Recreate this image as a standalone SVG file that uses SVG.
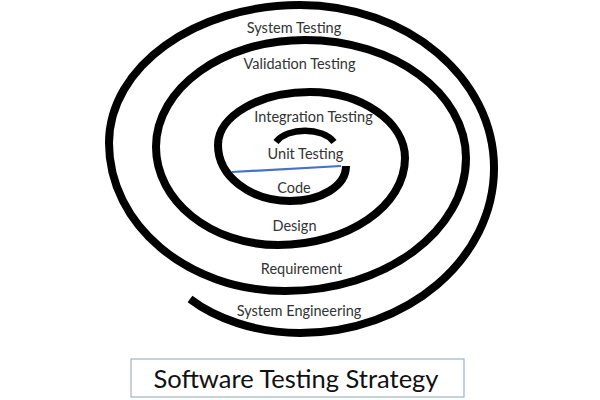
<svg xmlns="http://www.w3.org/2000/svg" width="600" height="400" viewBox="0 0 600 400">
  <style>
    .spiral { fill: none; stroke: #000; stroke-width: 8; stroke-linecap: butt; }
    .inner { fill: none; stroke: #000; stroke-width: 6.5; }
    .lbl { font-family: Lato, "Liberation Sans", sans-serif; font-size: 14.5px; fill: #333; text-anchor: middle; }
    .title { font-family: Lato, "Liberation Sans", sans-serif; font-size: 25.5px; fill: #111; text-anchor: middle; }
  </style>
  <rect width="600" height="400" fill="#fff"/>
  <g id="connectors">
    <path id="spiral" class="spiral" d="M 190 299 C 215 318 255 333 300 333 C 407 333 494 259 494 168 C 494 78 407 5 300 5 C 195 5 109 67 109 143 C 109 225 188 291 285 291 C 385 291 466 231 466 158 C 466 93 394 40 305 40 C 223 40 156 88 156 147 C 156 201 211 245 278 245 C 348 245 405 206 405 158 C 405 122 362 92 310 92 C 259 92 218 116 218 145 C 218 176 250 201 290 201 C 321 201 346 186 346 166"/>
    <path id="inner-arc" class="inner" d="M 334 142 C 322 127 288 127 276 142"/>
    <line id="blue-line" x1="232" y1="172" x2="341" y2="166" stroke="#4472C4" stroke-width="2.2"/>
  </g>
  <g id="n-system-testing"><text class="lbl" x="294" y="33">System Testing</text></g>
  <g id="n-validation-testing"><text class="lbl" x="299.5" y="69">Validation Testing</text></g>
  <g id="n-integration-testing"><text class="lbl" x="313.5" y="122">Integration Testing</text></g>
  <g id="n-unit-testing"><text class="lbl" x="305.5" y="159">Unit Testing</text></g>
  <g id="n-code"><text class="lbl" x="294" y="193">Code</text></g>
  <g id="n-design"><text class="lbl" x="294.5" y="231">Design</text></g>
  <g id="n-requirement"><text class="lbl" x="301.5" y="274">Requirement</text></g>
  <g id="n-system-engineering"><text class="lbl" x="299" y="316">System Engineering</text></g>
  <g id="n-title">
    <rect x="131" y="359" width="333" height="38" fill="#fff" stroke="#9fb4c8" stroke-width="1.2"/>
    <text class="title" x="296" y="388">Software Testing Strategy</text>
  </g>
</svg>
